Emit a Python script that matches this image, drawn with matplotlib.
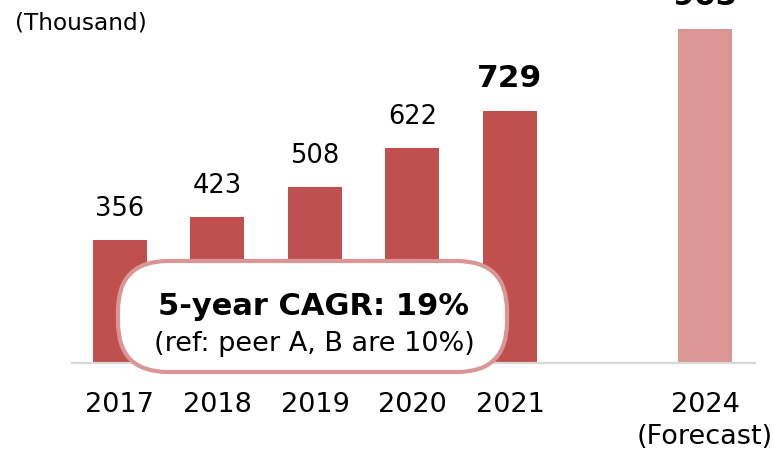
import matplotlib
matplotlib.use("Agg")
import matplotlib.pyplot as plt
from matplotlib.patches import FancyBboxPatch

plt.rcParams["font.family"] = ["DejaVu Sans"]

years = ["2017", "2018", "2019", "2020", "2021", "2024\n(Forecast)"]
values = [356, 423, 508, 622, 729, 965]
positions = [0, 1, 2, 3, 4, 6]
bold_labels = [False, False, False, False, True, True]

dark = "#C0504D"
light = "#D99694"
colors = [dark] * 5 + [light]

W, H = 774, 454
fig = plt.figure(figsize=(W / 100, H / 100), dpi=100)

# main bar axes, baseline at y=363 px, top of figure = top of axes
ax = fig.add_axes([72 / W, (H - 363) / H, (755 - 72) / W, 363 / H])
ax.bar(positions, values, width=0.554, color=colors, zorder=2)
ax.set_xlim(-0.492, 6.513)
ax.set_ylim(0, 1050)

for p, v, b in zip(positions, values, bold_labels):
    ax.annotate(str(v), (p, v), xytext=(0, 13), textcoords="offset points",
                ha="center", va="bottom", annotation_clip=False,
                fontsize=22.5 if b else 18.5,
                fontweight="bold" if b else "normal")

for s in ["top", "right", "left"]:
    ax.spines[s].set_visible(False)
ax.spines["bottom"].set_color("#D9D9D9")
ax.spines["bottom"].set_linewidth(1.6)
ax.set_yticks([])
ax.set_xticks(positions)
ax.set_xticklabels(years, fontsize=19.5, linespacing=1.3)
ax.tick_params(axis="x", length=0, pad=21)

fig.text(15 / W, 1 - 30 / H, "(Thousand)", fontsize=16.7, ha="left", va="baseline")

# overlay in pixel coordinates for the CAGR pill
ov = fig.add_axes([0, 0, 1, 1])
ov.set_xlim(0, W)
ov.set_ylim(H, 0)
ov.axis("off")
pill = FancyBboxPatch((118, 261), 389, 111,
                      boxstyle="round,pad=0,rounding_size=50",
                      facecolor="white", edgecolor=light, linewidth=3)
ov.add_patch(pill)
ov.text(314, 315, "5-year CAGR: 19%", fontsize=22, fontweight="bold",
        ha="center", va="baseline")
ov.text(314, 351, "(ref: peer A, B are 10%)", fontsize=19.5,
        ha="center", va="baseline")

fig.savefig("out.png", dpi=100)
